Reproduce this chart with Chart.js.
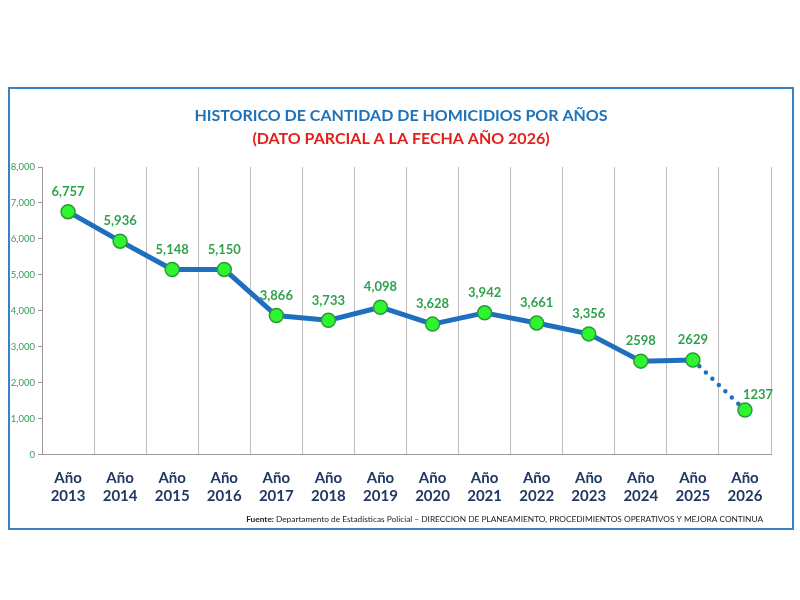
<!DOCTYPE html>
<html>
<head>
<meta charset="utf-8">
<script src="https://cdn.jsdelivr.net/npm/chart.js@4.4.1/dist/chart.umd.min.js"></script>
<style>
  html, body { margin: 0; padding: 0; background: #fff; }
  #marco {
    position: absolute;
    left: 8px; top: 87px;
    width: 782px; height: 439px;
    border: 2px solid #3b82c4;
    background: #fff;
  }
  #grafico { display: block; }
</style>
</head>
<body>
<div id="marco"><canvas id="grafico" width="782" height="439"></canvas></div>
<script>
// datos
const anios = ['2013', '2014', '2015', '2016', '2017', '2018', '2019', '2020', '2021', '2022', '2023', '2024', '2025', '2026'];
const homicidios = [6757, 5936, 5148, 5150, 3866, 3733, 4098, 3628, 3942, 3661, 3356, 2598, 2629, 1237];
const etiquetasValor = ['6,757', '5,936', '5,148', '5,150', '3,866', '3,733', '4,098', '3,628', '3,942', '3,661', '3,356', '2598', '2629', '1237'];
const ticksY = [0, 1000, 2000, 3000, 4000, 5000, 6000, 7000, 8000];

const titulo = 'HISTORICO DE CANTIDAD DE HOMICIDIOS POR AÑOS';
const subtitulo = '(DATO PARCIAL A LA FECHA AÑO 2026)';
const fuenteNegrita = 'Fuente: ';
const fuenteTexto = 'Departamento de Estadísticas Policial – DIRECCION DE PLANEAMIENTO, PROCEDIMIENTOS OPERATIVOS Y MEJORA CONTINUA';

const FAMILIA = 'Lato, "Open Sans", sans-serif';
const ultimo = homicidios.length - 1;

// titulo centrado en todo el recuadro (no solo en el area del grafico)
const tituloPlugin = {
  id: 'tituloCentrado',
  afterDraw(chart) {
    const ctx = chart.ctx;
    const cx = chart.width / 2;
    ctx.save();
    ctx.textAlign = 'center';
    ctx.textBaseline = 'middle';
    ctx.font = 'bold 16px ' + FAMILIA;
    ctx.fillStyle = '#1f72b8';
    ctx.fillText(titulo, cx, 27);
    ctx.fillStyle = '#e3211c';
    ctx.fillText(subtitulo, cx, 50);
    ctx.restore();
  }
};

// etiquetas de valor encima de cada punto
const etiquetasPlugin = {
  id: 'etiquetas',
  afterDatasetsDraw(chart) {
    const ctx = chart.ctx;
    const meta = chart.getDatasetMeta(0);
    ctx.save();
    ctx.font = 'bold 13px ' + FAMILIA;
    ctx.fillStyle = '#2fa24f';
    ctx.textBaseline = 'middle';
    meta.data.forEach((pt, i) => {
      if (i === ultimo) {
        ctx.textAlign = 'left';
        ctx.fillText(etiquetasValor[i], pt.x - 2, pt.y - 15);
      } else {
        ctx.textAlign = 'center';
        ctx.fillText(etiquetasValor[i], pt.x, pt.y - 20);
      }
    });
    ctx.restore();
  }
};

// nota de fuente al pie
const fuentePlugin = {
  id: 'fuente',
  afterDraw(chart) {
    const ctx = chart.ctx;
    ctx.save();
    ctx.textBaseline = 'middle';
    ctx.fillStyle = '#222';
    const y = chart.height - 9;
    const derecha = 753;
    ctx.font = '8.3px ' + FAMILIA;
    const wTexto = ctx.measureText(fuenteTexto).width;
    ctx.font = 'bold 8.3px ' + FAMILIA;
    const wNeg = ctx.measureText(fuenteNegrita).width;
    const x0 = derecha - wTexto - wNeg;
    ctx.textAlign = 'left';
    ctx.fillText(fuenteNegrita, x0, y);
    ctx.font = '8.3px ' + FAMILIA;
    ctx.fillText(fuenteTexto, x0 + wNeg, y);
    ctx.restore();
  }
};

const ctx = document.getElementById('grafico').getContext('2d');
new Chart(ctx, {
  type: 'line',
  data: {
    labels: anios.map(a => ['Año', a]),
    datasets: [{
      data: homicidios,
      borderColor: '#1f6fbf',
      borderWidth: 5,
      borderCapStyle: 'round',
      borderJoinStyle: 'round',
      tension: 0,
      pointRadius: 7,
      pointBorderWidth: 1.5,
      pointBackgroundColor: '#2ef52e',
      pointBorderColor: '#2c9a3a',
      segment: {
        borderDash: c => c.p1DataIndex === ultimo ? [0, 9] : undefined,
        borderWidth: c => c.p1DataIndex === ultimo ? 4.5 : undefined
      }
    }]
  },
  options: {
    responsive: false,
    animation: false,
    layout: { padding: { left: 0, right: 21, top: 78, bottom: 8 } },
    plugins: {
      legend: { display: false },
      tooltip: { enabled: false },
      title: { display: false }
    },
    scales: {
      x: {
        offset: true,
        grid: {
          offset: true,
          color: '#bdbdbd',
          drawTicks: false
        },
        border: { color: '#9a9a9a' },
        ticks: {
          color: '#1f3864',
          padding: 14,
          maxRotation: 0,
          font: { family: FAMILIA, size: 15, weight: 'bold', lineHeight: 1.25 }
        }
      },
      y: {
        min: 0,
        max: 8000,
        afterFit: s => { s.width = 32; },
        afterBuildTicks: s => { s.ticks = ticksY.map(v => ({ value: v })); },
        grid: {
          drawOnChartArea: false,
          drawTicks: true,
          tickLength: 4,
          color: '#9a9a9a'
        },
        border: { color: '#9a9a9a' },
        ticks: {
          color: '#3a9a5c',
          padding: 3,
          font: { family: FAMILIA, size: 9.5 },
          callback: v => v.toLocaleString('en-US')
        }
      }
    }
  },
  plugins: [tituloPlugin, etiquetasPlugin, fuentePlugin]
});
</script>
</body>
</html>
